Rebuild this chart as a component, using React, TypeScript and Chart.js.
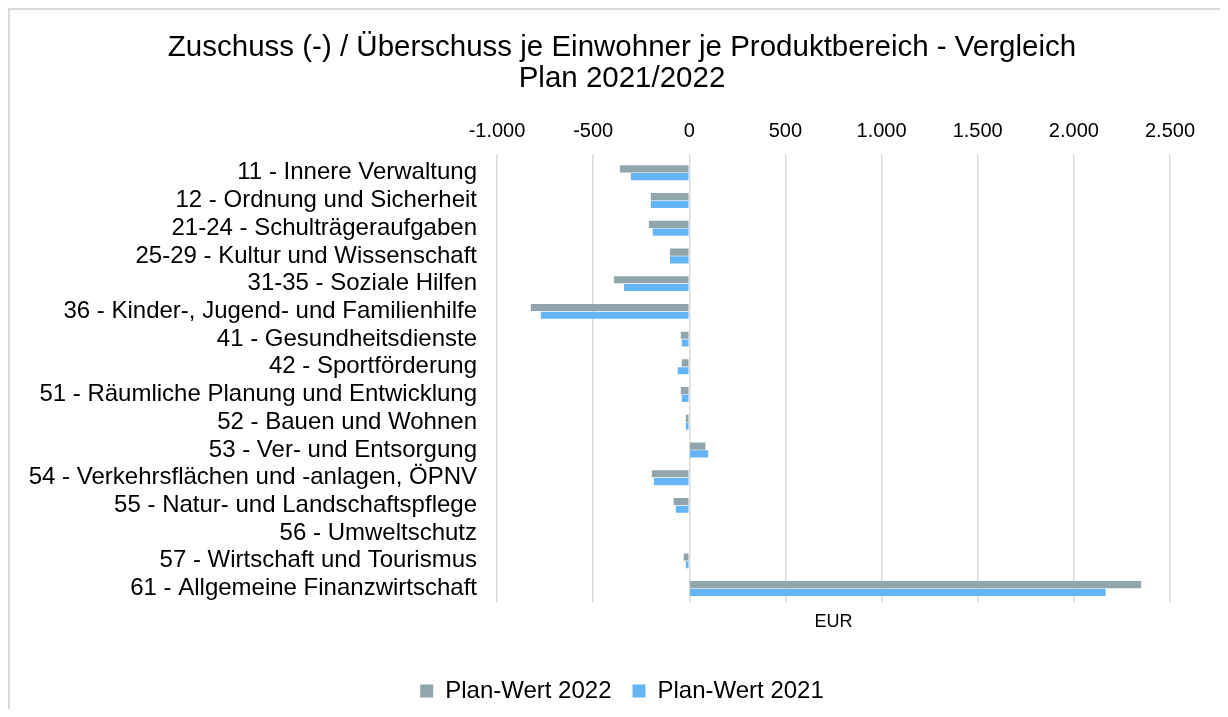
import React, { useEffect, useRef } from "react";
import { Chart, registerables } from "chart.js";

Chart.register(...registerables);

const categories = [
  "11 - Innere Verwaltung",
  "12 - Ordnung und Sicherheit",
  "21-24 - Schulträgeraufgaben",
  "25-29 - Kultur und Wissenschaft",
  "31-35 - Soziale Hilfen",
  "36 - Kinder-, Jugend- und Familienhilfe",
  "41 - Gesundheitsdienste",
  "42 - Sportförderung",
  "51 - Räumliche Planung und Entwicklung",
  "52 - Bauen und Wohnen",
  "53 - Ver- und Entsorgung",
  "54 - Verkehrsflächen und -anlagen, ÖPNV",
  "55 - Natur- und Landschaftspflege",
  "56 - Umweltschutz",
  "57 - Wirtschaft und Tourismus",
  "61 - Allgemeine Finanzwirtschaft",
];

const plan2022 = [-361, -200, -210, -101, -392, -824, -44, -39, -44, -18, 84, -195, -81, 0, -29, 2350];
const plan2021 = [-304, -200, -190, -100, -340, -772, -39, -60, -39, -18, 98, -184, -70, 0, -18, 2165];

const xMin = -1000;
const xMax = 2500;
const xStep = 500;

const titleLines = ["Zuschuss (-) / Überschuss je Einwohner je Produktbereich - Vergleich", "Plan 2021/2022"];
const axisTitle = "EUR";
const seriesNames = ["Plan-Wert 2022", "Plan-Wert 2021"];

function fmt(v: number): string {
  const neg = v < 0;
  const s = Math.abs(Math.round(v)).toString().replace(/\B(?=(\d{3})+(?!\d))/g, ".");
  return (neg ? "-" : "") + s;
}

export default function App() {
  const ref = useRef<HTMLCanvasElement | null>(null);
  useEffect(() => {
    if (!ref.current) return;
    const font = "'Liberation Sans', Arial, sans-serif";
    const chart = new Chart(ref.current, {
      type: "bar",
      data: {
        labels: categories,
        datasets: [
          { label: seriesNames[0], data: plan2022, backgroundColor: "#91A5AD", categoryPercentage: 0.56, barPercentage: 0.92 },
          { label: seriesNames[1], data: plan2021, backgroundColor: "#64B5F6", categoryPercentage: 0.56, barPercentage: 0.92 },
        ],
      },
      options: {
        indexAxis: "y",
        animation: false,
        responsive: false,
        maintainAspectRatio: false,
        layout: { padding: { left: 0, right: 6, top: 0, bottom: 0 } },
        scales: {
          x: {
            position: "top",
            min: xMin,
            max: xMax,
            ticks: { stepSize: xStep, callback: (v: any) => fmt(Number(v)), color: "#000", font: { family: font, size: 20 }, padding: 10 },
            grid: { color: "#d9d9d9", lineWidth: 1.5, drawTicks: true, tickLength: 5 },
            border: { display: false },
          },
          x2: {
            position: "bottom",
            axis: "x",
            min: xMin,
            max: xMax,
            ticks: { display: false },
            grid: { display: false, drawTicks: false },
            border: { display: false },
            title: { display: true, text: axisTitle, color: "#000", font: { family: font, size: 18 }, padding: { top: 9, bottom: 25 } },
          },
          y: {
            ticks: { color: "#000", font: { family: font, size: 24 }, padding: 20, autoSkip: false },
            grid: { display: false, drawTicks: false },
            border: { display: false },
            afterFit: (s: any) => { s.width = 487; },
          },
          y2: {
            type: "category",
            axis: "y",
            position: "right",
            labels: categories,
            ticks: { display: false },
            grid: { display: false, drawTicks: false },
            border: { display: false },
            afterFit: (s: any) => { s.width = 64; },
          },
        },
        plugins: {
          title: {
            display: true,
            text: titleLines,
            color: "#000",
            font: { family: font, size: 29.5, weight: "normal", lineHeight: 1.05 },
            padding: { top: 22, bottom: 16 },
          },
          legend: {
            position: "bottom",
            labels: { color: "#000", font: { family: font, size: 24 }, boxWidth: 13, boxHeight: 13, padding: 21 },
          },
          tooltip: { enabled: false },
        },
      },
    } as any);
    return () => chart.destroy();
  }, []);
  return (
    <div style={{ width: 1212, height: 701, borderTop: "2px solid #d9d9d9", borderLeft: "2px solid #d9d9d9", boxSizing: "border-box", overflow: "hidden" }}>
      <canvas ref={ref} width={1230} height={703} style={{ display: "block" }} />
    </div>
  );
}
